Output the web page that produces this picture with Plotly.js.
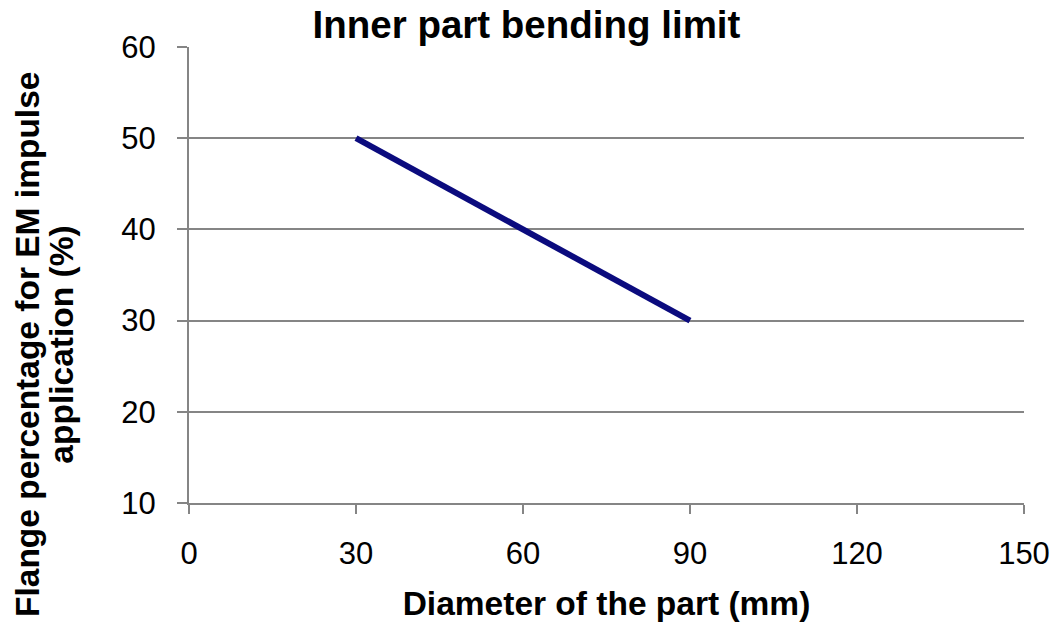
<!DOCTYPE html>
<html>
<head>
<meta charset="utf-8">
<script src="https://cdn.plot.ly/plotly-3.0.1.min.js"></script>
<style>html,body{margin:0;padding:0;background:#fff;}#chart{width:1053px;height:622px;}</style>
</head>
<body>
<div id="chart"></div>
<script>
const diameter = [30, 60, 90];
const flangePct = [50, 40, 30];
const xTicks = [0, 30, 60, 90, 120, 150];
const yTicks = [10, 20, 30, 40, 50, 60];
const yGrid = [20, 30, 40, 50];
const chartTitle = "Inner part bending limit";
const xTitle = "Diameter of the part (mm)";
const yTitleLines = ["Flange percentage for EM impulse", "application (%)"];

const FONT = '"Liberation Sans", Arial, sans-serif';
const axisColor = '#858585';

const traces = [
  {
    x: diameter, y: flangePct, type: 'scatter', mode: 'lines',
    line: {color: '#0b0b7e', width: 6},
    hoverinfo: 'skip', showlegend: false
  },
  {
    x: diameter, y: flangePct, type: 'scatter', mode: 'none',
    yaxis: 'y2', hoverinfo: 'skip', showlegend: false
  }
];

const yTitleX = [-0.1928, -0.1525];

const layout = {
  width: 1053, height: 622,
  margin: {l: 189, r: 29, t: 47, b: 119},
  paper_bgcolor: '#fff', plot_bgcolor: '#fff',
  font: {family: FONT, color: '#000'},
  title: {
    text: chartTitle,
    font: {family: FONT, size: 38.5, weight: 700, color: '#000'},
    xref: 'container', x: 0.5, xanchor: 'center',
    yref: 'container', y: 1 - 25/622, yanchor: 'middle'
  },
  xaxis: {
    range: [0, 150], tickvals: xTicks, ticktext: xTicks.map(String),
    showgrid: false, zeroline: false,
    showline: true, linecolor: axisColor, linewidth: 2,
    ticks: 'outside', ticklen: 9, tickwidth: 2, tickcolor: axisColor,
    tickfont: {family: FONT, size: 31, color: '#000'},
    ticklabelstandoff: 13,
    title: {text: xTitle, font: {family: FONT, size: 33.5, weight: 700, color: '#000'}, standoff: 22}
  },
  yaxis: {
    range: [10, 60], tickvals: yTicks, ticktext: yTicks.map(String),
    showgrid: false, zeroline: false,
    showline: true, linecolor: axisColor, linewidth: 2,
    ticks: 'outside', ticklen: 10, tickwidth: 2, tickcolor: axisColor,
    tickfont: {family: FONT, size: 31, color: '#000'},
    ticklabelstandoff: 15
  },
  yaxis2: {
    range: [10, 60], overlaying: 'y', tickvals: yGrid,
    showgrid: true, gridcolor: axisColor, gridwidth: 2,
    showticklabels: false, ticks: '', zeroline: false, showline: false
  },
  annotations: yTitleLines.map((t, i) => ({
    text: '<b>' + t + '</b>',
    textangle: -90,
    xref: 'paper', yref: 'paper',
    x: yTitleX[i], xanchor: 'center',
    y: 0.3465, yanchor: 'middle',
    showarrow: false, align: 'center',
    font: {family: FONT, size: 33.5, color: '#000'}
  }))
};

Plotly.newPlot('chart', traces, layout, {displayModeBar: false, staticPlot: true});
</script>
</body>
</html>
